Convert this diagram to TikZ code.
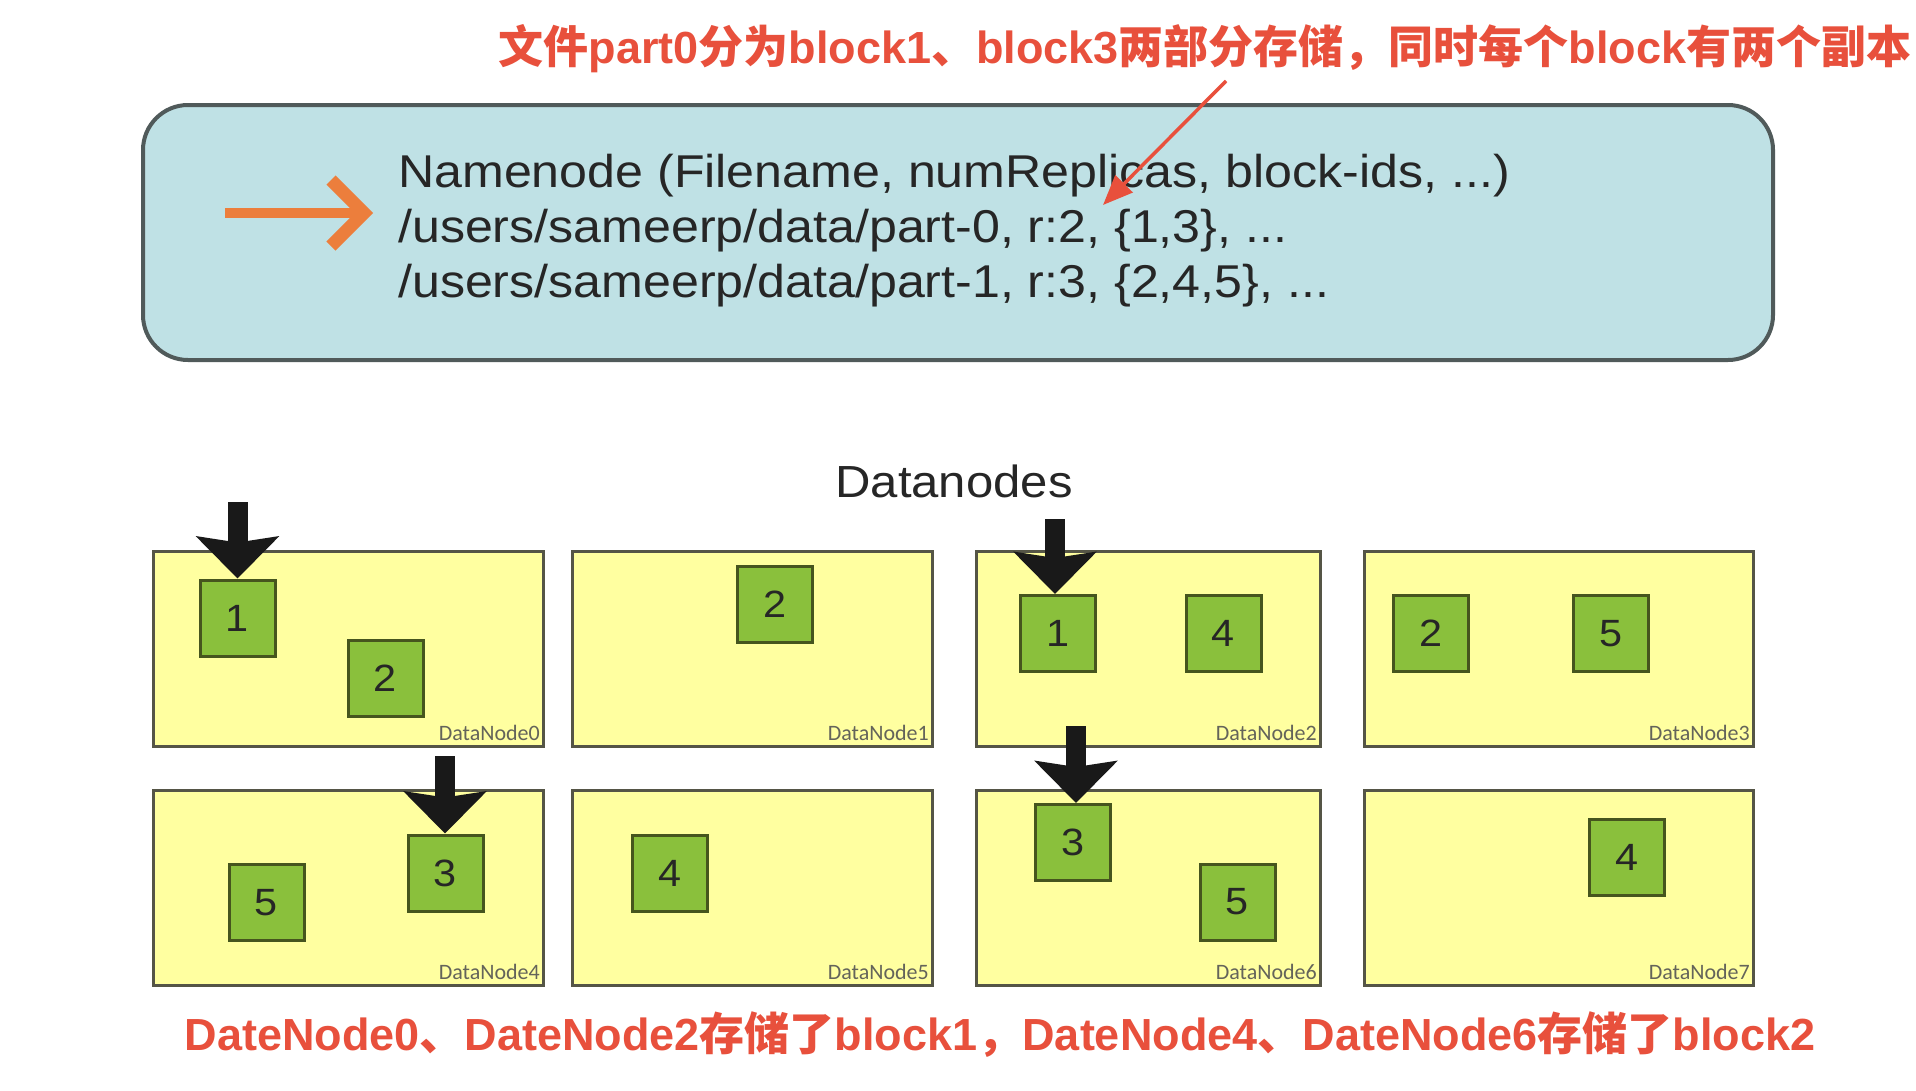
\documentclass[tikz,border=0pt]{standalone}
\usepackage{fontspec}
\usetikzlibrary{arrows.meta}
\setmainfont{Liberation Sans}
\newfontfamily\nnfont[FakeStretch=1.09]{Liberation Sans}
\newfontfamily\cjk{Noto Sans CJK SC}
\newfontfamily\lblfont{Carlito}
\definecolor{nnfill}{RGB}{191,225,229}
\definecolor{nnborder}{RGB}{80,90,90}
\definecolor{dnfill}{RGB}{255,255,160}
\definecolor{dnborder}{RGB}{85,85,70}
\definecolor{blkfill}{RGB}{138,192,60}
\definecolor{blkborder}{RGB}{70,85,30}
\definecolor{redc}{RGB}{232,80,60}
\definecolor{orangec}{RGB}{236,126,60}
\definecolor{lblgray}{RGB}{100,100,90}
\definecolor{arrowblack}{RGB}{25,25,25}
\tikzset{
  dnbox/.style={draw=dnborder, fill=dnfill, line width=3pt, minimum width=#1, minimum height=195pt, anchor=north west, inner sep=0pt, outer sep=0pt},
  blk/.style={draw=blkborder, fill=blkfill, line width=3pt, minimum width=75pt, minimum height=76pt, inner sep=0pt, font=\nnfont\fontsize{38}{40}\selectfont, text=black!85},
  dnlabel/.style={font=\lblfont\fontsize{22}{24}\selectfont, text=lblgray, inner sep=0pt, anchor=base east},
  nntext/.style={font=\nnfont\fontsize{46}{50}\selectfont, text=black!85, inner sep=0pt, anchor=base west},
  redtxt/.style={font=\bfseries\fontsize{45}{50}\selectfont, text=redc, inner sep=0pt},
  bigarrow/.style={draw=arrowblack, line width=20pt, -{Stealth[length=42pt,width=82pt,inset=6pt]}},
}
\begin{document}
\begin{tikzpicture}[x=1pt,y=-1pt]
\useasboundingbox (0,0) rectangle (1916,1090);
\fill[white] (0,0) rectangle (1916,1090);

% title annotation
\node[redtxt] (title) at (1205,49) {{\cjk 文件}part0{\cjk 分为}block1{\cjk 、}block3{\cjk 两部分存储，同时每个}block{\cjk 有两个副本}};

% namenode box
\node[draw=nnborder, fill=nnfill, line width=4pt, rounded corners=45pt, minimum width=1630pt, minimum height=255pt, anchor=north west, inner sep=0pt] (nn) at (141,103) {};

% orange arrow
\coordinate (oa) at (225,213);
\coordinate (ob) at (356,213);
\draw[orangec, line width=10pt] (oa) -- (ob);
\draw[orangec, line width=13pt, line join=miter] (331,180) -- (364,213) -- (331,246);

% namenode text
\node[nntext] (l1) at (398,187) {Namenode (Filename, numReplicas, block-ids, ...)};
\node[nntext] (l2) at (398,242) {/users/sameerp/data/part-0, r:2, \{1,3\}, ...};
\node[nntext] (l3) at (398,297) {/users/sameerp/data/part-1, r:3, \{2,4,5\}, ...};

% red pointer arrow
\coordinate (ra) at (1226,81);
\coordinate (rb) at (1103,205);
\draw[redc, line width=3.5pt, -{Triangle[length=30pt,width=24pt]}] (ra) -- (rb);

% Datanodes title
\node[font=\nnfont\fontsize{45}{50}\selectfont, text=black!85, inner sep=0pt, anchor=base] (dtitle) at (954,497) {Datanodes};

% datanode boxes
\node[dnbox=390pt] (dn0) at (153,551) {};
\node[dnbox=360pt] (dn1) at (572,551) {};
\node[dnbox=344pt] (dn2) at (976,551) {};
\node[dnbox=389pt] (dn3) at (1364,551) {};
\node[dnbox=390pt] (dn4) at (153,790) {};
\node[dnbox=360pt] (dn5) at (572,790) {};
\node[dnbox=344pt] (dn6) at (976,790) {};
\node[dnbox=389pt] (dn7) at (1364,790) {};

\foreach \i in {0,...,7}{
  \node[dnlabel] (lab\i) at ([xshift=-3pt,yshift=6pt]dn\i.south east) {DataNode\i};
}

% blocks
\node[blk] (b01) at (237.5,618) {1};
\node[blk] (b02) at (385.5,678) {2};
\node[blk] (b12) at (775,604) {2};
\node[blk] (b21) at (1058,633.5) {1};
\node[blk] (b24) at (1223.5,633.5) {4};
\node[blk] (b32) at (1431,633.5) {2};
\node[blk] (b35) at (1611,633.5) {5};
\node[blk] (b45) at (266.5,902.5) {5};
\node[blk] (b43) at (445.5,873) {3};
\node[blk] (b54) at (670,873) {4};
\node[blk] (b63) at (1073,842.5) {3};
\node[blk] (b65) at (1237.5,902) {5};
\node[blk] (b74) at (1627,857.5) {4};

% big black arrows
\coordinate (a0) at (237.5,502);
\coordinate (a4) at (445,756);
\coordinate (a2) at (1055,519);
\coordinate (a6) at (1076,726);
\draw[bigarrow] (a0) -- (a0 |- b01.north);
\draw[bigarrow] (a4) -- (a4 |- b43.north);
\draw[bigarrow] (a2) -- (a2 |- b21.north);
\draw[bigarrow] (a6) -- (a6 |- b63.north);

% bottom annotation
\node[redtxt] (bottom) at (1000,1035) {DateNode0{\cjk 、}DateNode2{\cjk 存储了}block1{\cjk ，}DateNode4{\cjk 、}DateNode6{\cjk 存储了}block2};
\end{tikzpicture}
\end{document}
